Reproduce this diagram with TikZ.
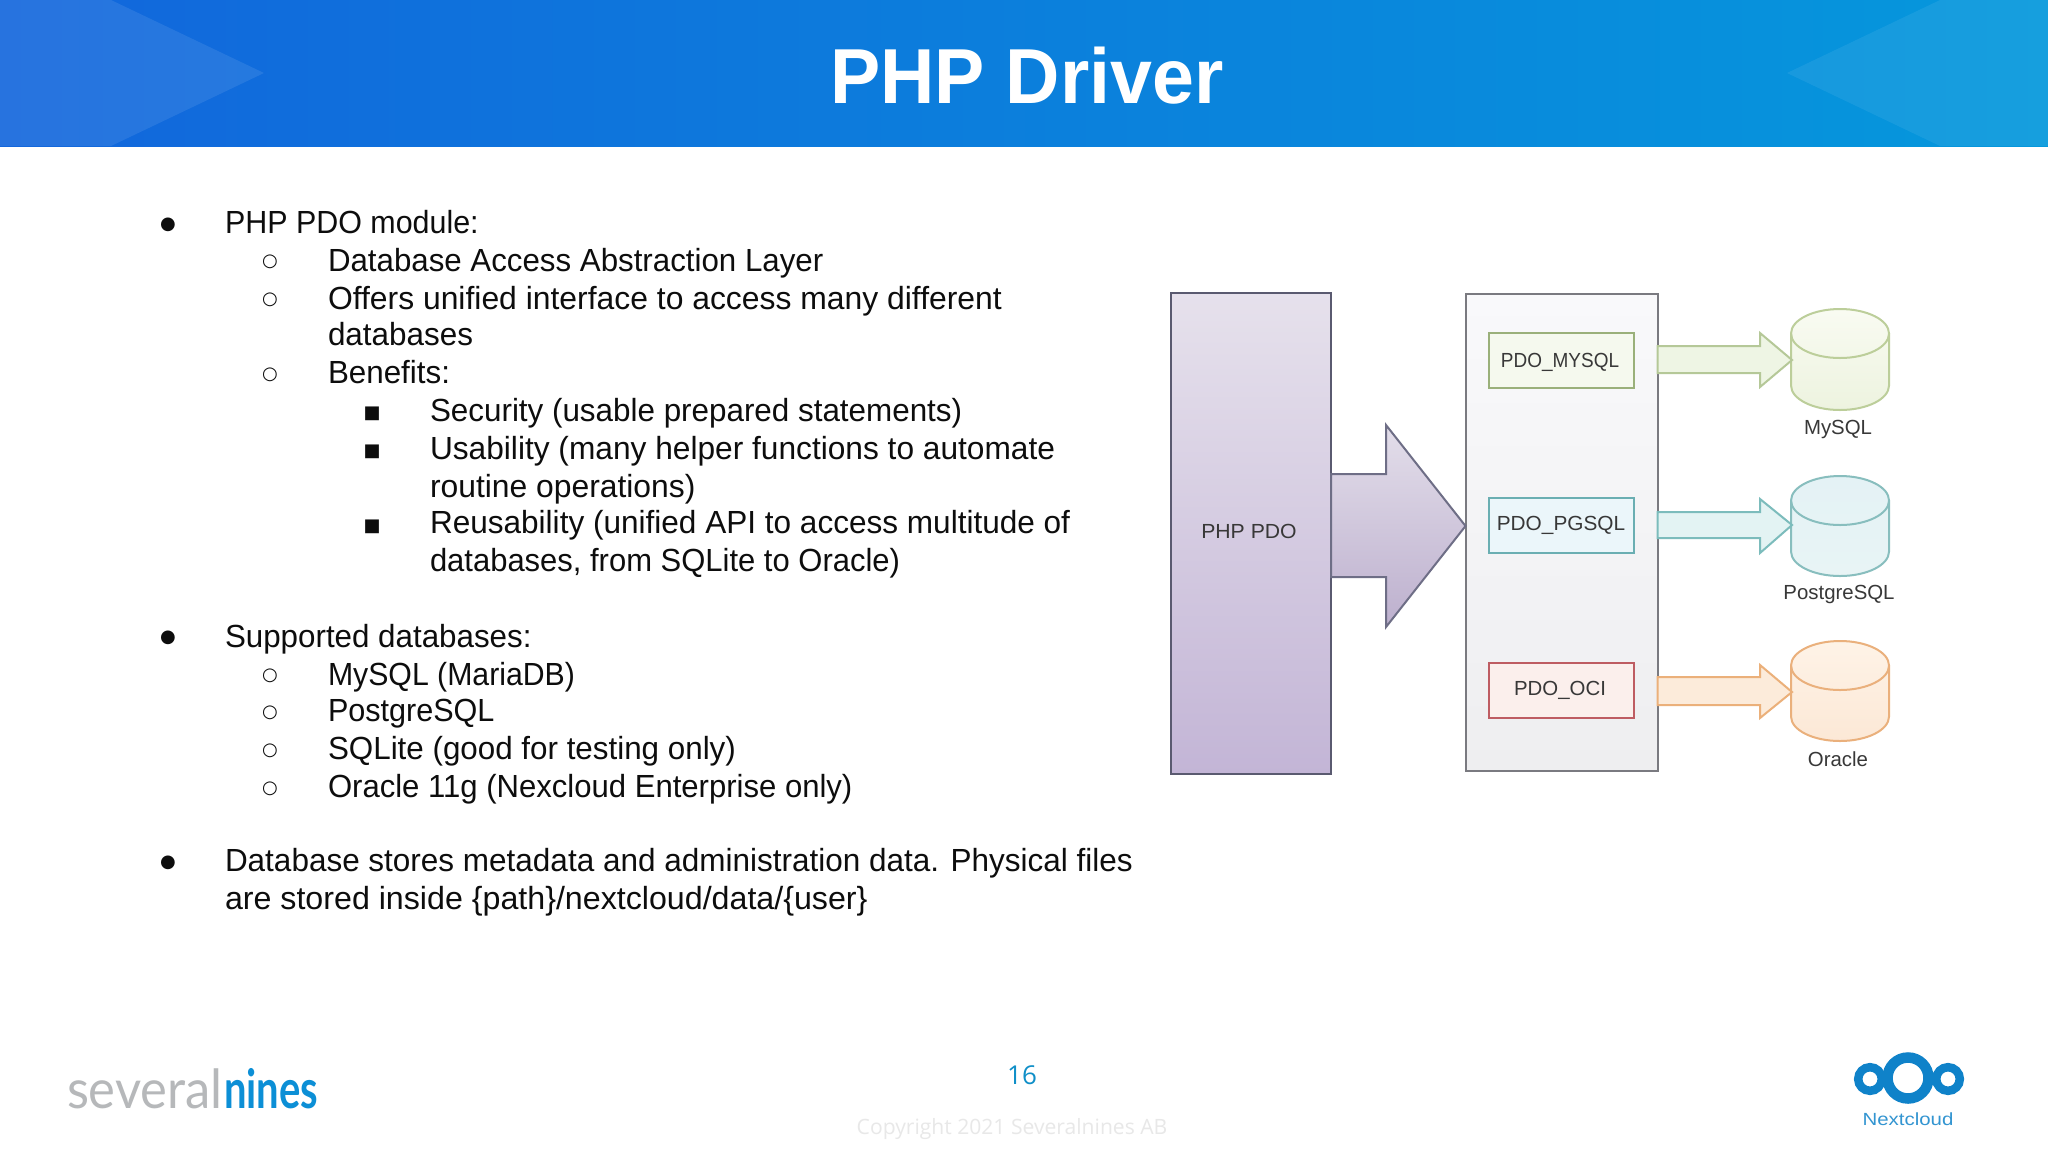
\documentclass[tikz,border=0pt]{standalone}
\usepackage{fontspec}
\usepackage{graphicx}
\setmainfont{Liberation Sans}
\newfontfamily\symfont{DejaVu Sans}
\newfontfamily\logofont{Lato}
\newfontfamily\copyfont{Open Sans}
\usetikzlibrary{calc}
\definecolor{hdl}{HTML}{1266DC}
\definecolor{hdr}{HTML}{0598DC}
\definecolor{pdoline}{HTML}{5A5A70}
\definecolor{arrline}{HTML}{6E6E86}
\definecolor{midline}{HTML}{7A7A80}
\definecolor{myline}{HTML}{9AB07A}
\definecolor{pgline}{HTML}{6AAEB2}
\definecolor{ocline}{HTML}{BE5C62}
\definecolor{myarrow}{HTML}{B5C898}
\definecolor{pgarrow}{HTML}{7CBCBC}
\definecolor{ocarrow}{HTML}{EBB07A}
\definecolor{myfill}{HTML}{F5F9EE}
\definecolor{pgfill}{HTML}{EBF6FA}
\definecolor{ocfill}{HTML}{FBEFEC}
\definecolor{myafill}{HTML}{EEF5E4}
\definecolor{pgafill}{HTML}{E3F3F3}
\definecolor{ocafill}{HTML}{FCEBDA}
\definecolor{phptop}{HTML}{E6E1EC}
\definecolor{phpbot}{HTML}{C3B5D6}
\definecolor{arrtop}{HTML}{E3DEEA}
\definecolor{arrbot}{HTML}{BDB0CE}
\definecolor{midtop}{HTML}{F9F9FB}
\definecolor{midbot}{HTML}{EEEEF0}
\definecolor{mytop}{HTML}{F9FBF2}
\definecolor{mybot}{HTML}{EDF3DF}
\definecolor{mycyl}{HTML}{BCCE9A}
\definecolor{pgtop}{HTML}{E4F2F5}
\definecolor{pgbot}{HTML}{E8F4F5}
\definecolor{pgcyl}{HTML}{88BEBE}
\definecolor{octop}{HTML}{FEF3E7}
\definecolor{ocbot}{HTML}{FCE8D6}
\definecolor{occyl}{HTML}{EAB07C}
\definecolor{nineblue}{HTML}{0C8FD6}
\definecolor{ncblue}{HTML}{0F82C9}
\definecolor{pagenum}{HTML}{0F8FC8}
\definecolor{sevgray}{HTML}{B6B8BA}
\tikzset{
  body/.style={anchor=base west,inner sep=0pt,outer sep=0pt,yshift=0.2pt,font=\fontsize{16}{16}\selectfont,text=black!95},
  sym/.style={anchor=center,inner sep=0pt,outer sep=0pt,yshift=-0.4pt,font=\symfont\fontsize{9}{9}\selectfont,text=black!95},
  lab/.style={inner sep=0pt,outer sep=0pt,font=\fontsize{10.2}{10.2}\selectfont,text=black!78},
  modbox/.style={lab,draw=#1,line width=1pt,minimum width=72.5pt,minimum height=27.5pt},
  bigbox/.style={lab,draw=#1,line width=1pt,anchor=north west},
  logotext/.style={anchor=base west,inner sep=0pt,outer sep=0pt}
}
% #1 name, #2 x, #3 baseline y, #4 horizontal fit, #5 text
\newcommand{\tl}[5]{\node[body] (#1) at (#2,#3) {\scalebox{#4}[1]{#5}};}
\newcommand{\bl}[4]{\node[sym] (#1) at (#2,#3) {#4};}
% #1 name, #2 x, #3 top-ellipse y, #4 bottom-ellipse y, #5 top colour, #6 bottom colour, #7 line
\newcommand{\dbcyl}[7]{%
  \coordinate (#1) at (#2,#3);
  \path[draw=#7,line width=1pt,top color=#5,bottom color=#6]
    ($(#1)+(-49,0)$) arc[start angle=180,end angle=0,x radius=24.5pt,y radius=12.25pt]
    -- ($(#1)+(49,#4-#3)$) arc[start angle=0,end angle=-180,x radius=24.5pt,y radius=12.25pt] -- cycle;
  \draw[draw=#7,line width=1pt] ($(#1)+(-49,0)$) arc[start angle=180,end angle=360,x radius=24.5pt,y radius=12.25pt];
}
% #1 from, #2 shaft top, #3 shaft bottom, #4 head top, #5 head bottom, #6 head base x, #7 tip, #8 style
\newcommand{\blockarrow}[8]{%
  \path[#8] (#1.east |- 0,#2) -- (#6,#2) -- (#6,#4) -- (#7) -- (#6,#5) -- (#6,#3) -- (#1.east |- 0,#3) -- cycle;
}
\begin{document}
\begin{tikzpicture}[x=0.5pt,y=-0.5pt]
\useasboundingbox (0,0) rectangle (2048,1152);
\fill[white] (0,0) rectangle (2048,1152);
% header
\shade[left color=hdl,right color=hdr] (0,0) rectangle (2048,146);
\fill[white,opacity=.09] (0,0) -- (111,0) -- (264,73) -- (111,146) -- (0,146) -- cycle;
\fill[white,opacity=.07] (2048,0) -- (1940,0) -- (1787,73) -- (1940,146) -- (2048,146) -- cycle;
\node[inner sep=0pt,text=white,font=\bfseries\fontsize{39}{39}\selectfont,anchor=base] (title) at (1027,103.5) {\scalebox{.965}[1]{PHP Driver}};
% bullets and text
\bl{b1}{168}{224}{●}\tl{t1}{225}{234}{.951}{PHP PDO module:}
\bl{b2}{270}{261}{○}\tl{t2}{328}{272}{.977}{Database Access Abstraction Layer}
\bl{b3}{270}{299}{○}\tl{t3}{328}{309.5}{.996}{Offers unified interface to access many different}
\tl{t4}{328}{346}{.982}{databases}
\bl{b4}{270}{374}{○}\tl{t5}{328}{384}{.98}{Benefits:}
\bl{b5}{372}{413}{■}\tl{t6}{430}{422}{.981}{Security (usable prepared statements)}
\bl{b6}{372}{451}{■}\tl{t7}{430}{460}{.99}{Usability (many helper functions to automate}
\tl{t8}{430}{497.5}{.995}{routine operations)}
\bl{b7}{372}{526}{■}\tl{t9}{430}{534}{.986}{Reusability (unified API to access multitude of}
\tl{t10}{430}{572}{.968}{databases, from SQLite to Oracle)}
\bl{b8}{168}{637}{●}\tl{t11}{225}{648}{.979}{Supported databases:}
\bl{b9}{270}{675}{○}\tl{t12}{328}{685.5}{.945}{MySQL (MariaDB)}
\bl{b10}{270}{712}{○}\tl{t13}{328}{722}{.955}{PostgreSQL}
\bl{b11}{270}{750}{○}\tl{t14}{328}{760}{.98}{SQLite (good for testing only)}
\bl{b12}{270}{788}{○}\tl{t15}{328}{798}{.971}{Oracle 11g (Nexcloud Enterprise only)}
\bl{b13}{168}{862}{●}\tl{t16}{225}{872}{.984}{Database stores metadata and administration data. Physical files}
\tl{t17}{225}{910}{1.006}{are stored inside \{path\}/nextcloud/data/\{user\}}
% diagram: big boxes
\node[bigbox=pdoline,top color=phptop,bottom color=phpbot,minimum width=80.25pt,minimum height=240.5pt] (php) at (1170.5,293) {};
\node[lab] (phplabel) at (1249,531.5) {\scalebox{1.04}[1]{PHP PDO}};
\node[bigbox=midline,top color=midtop,bottom color=midbot,minimum width=96pt,minimum height=238.5pt] (mid) at (1465.5,294) {};
% block arrows
\blockarrow{php}{474}{577}{425}{627}{1386}{mid.west |- 0,526}{draw=arrline,line width=1pt,top color=arrtop,bottom color=arrbot}
\coordinate (mytip) at (1792,360);
\coordinate (pgtip) at (1792,525);
\coordinate (octip) at (1792,692);
% module boxes
\node[modbox=myline,fill=myfill] (pdomy) at (1561.5,360) {};
\node[lab] (pdomylabel) at (1560,362) {\scalebox{.93}[1]{PDO\_MYSQL}};
\node[modbox=pgline,fill=pgfill] (pdopg) at (1561.5,525.5) {};
\node[lab] (pdopglabel) at (1561,525.5) {\scalebox{1.02}[1]{PDO\_PGSQL}};
\node[modbox=ocline,fill=ocfill] (pdooc) at (1561.5,690.5) {};
\node[lab] (pdooclabel) at (1560,690.5) {PDO\_OCI};
% databases
\dbcyl{my}{1840}{333.5}{385.5}{mytop}{mybot}{mycyl}
\dbcyl{pg}{1840}{500.5}{551.5}{pgtop}{pgbot}{pgcyl}
\dbcyl{oc}{1840}{665.5}{716.5}{octop}{ocbot}{occyl}
\blockarrow{mid}{346}{373}{333}{387}{1760}{mytip}{draw=myarrow,line width=1pt,fill=myafill}
\blockarrow{mid}{512}{538}{499}{553}{1760}{pgtip}{draw=pgarrow,line width=1pt,fill=pgafill}
\blockarrow{mid}{677}{705}{665}{718}{1760}{octip}{draw=ocarrow,line width=1pt,fill=ocafill}
\node[lab] (mylabel) at (1838,429) {MySQL};
\node[lab] (pglabel) at (1839,594) {PostgreSQL};
\node[lab] (oclabel) at (1838,759) {Oracle};
% footer
\node[inner sep=0pt,text=pagenum,font=\copyfont\fontsize{13}{13}\selectfont] (page) at (1022,1075) {16};
\node[inner sep=0pt,text=black!9,font=\copyfont\fontsize{10.55}{10.55}\selectfont] (copy) at (1012,1129) {Copyright 2021 Severalnines AB};
\node[logotext,text=sevgray,font=\logofont\fontsize{27}{27}\selectfont] (sev) at (67,1108) {\scalebox{.94}[1]{several}};
\node[logotext,text=nineblue,font=\logofont\bfseries\fontsize{27}{27}\selectfont] (nines) at (224,1108) {\scalebox{.74}[1]{nines}};
% nextcloud logo
\draw[ncblue,line width=5.25pt] (1908,1078) circle[radius=10.25pt];
\draw[ncblue,line width=4.25pt] (1870,1079) circle[radius=5.9pt];
\draw[ncblue,line width=4.25pt] (1948,1079) circle[radius=5.9pt];
\node[inner sep=0pt,text=ncblue!85,font=\fontsize{8.8}{8.8}\selectfont] (nc) at (1908,1119) {\scalebox{1.16}[1]{Nextcloud}};
\end{tikzpicture}
\end{document}
